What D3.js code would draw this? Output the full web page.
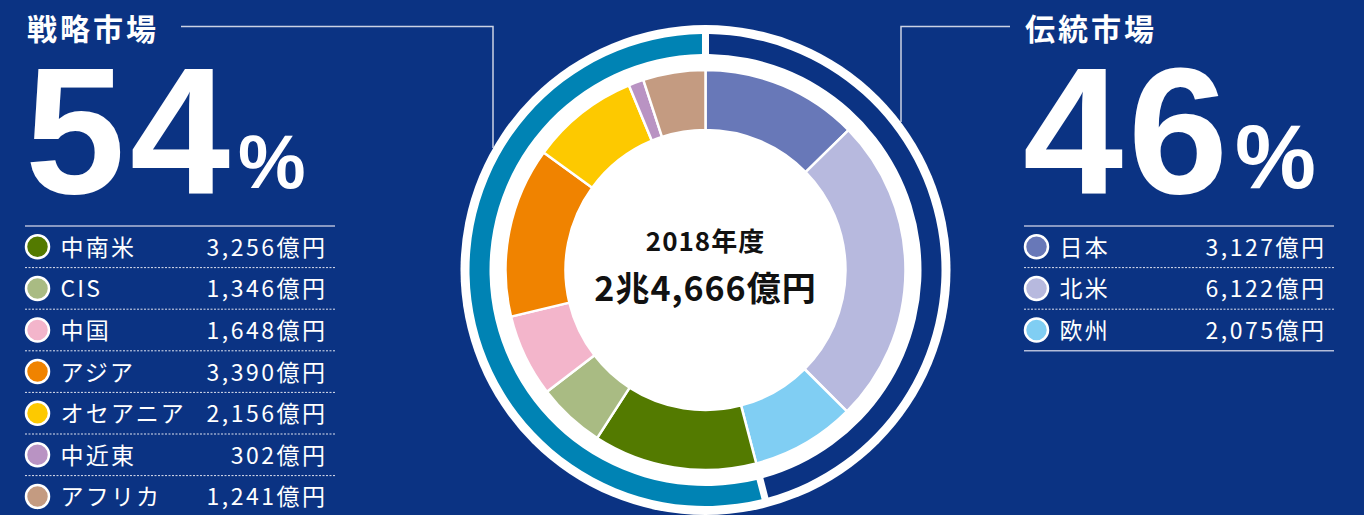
<!DOCTYPE html>
<html>
<head>
<meta charset="utf-8">
<script src="https://cdn.jsdelivr.net/npm/d3@7"></script>
<style>
  html, body { margin: 0; padding: 0; background: #0b3383; }
  svg { display: block; font-family: 'Noto Sans CJK JP', 'Noto Sans', sans-serif; }
</style>
</head>
<body>
<main></main>
<script>
// Data
const traditionalNames = ['日本', '北米', '欧州'];
const traditionalValues = [3127, 6122, 2075];
const strategicNames = ['中南米', 'CIS', '中国', 'アジア', 'オセアニア', '中近東', 'アフリカ'];
const strategicValues = [3256, 1346, 1648, 3390, 2156, 302, 1241];
const marketTitles = ['戦略市場', '伝統市場'];
const marketShares = [54, 46];
const fiscalYear = '2018年度';
const totalLabel = '2兆4,666億円';

// Colours
const traditionalColors = ['#6878b8', '#b7b9de', '#80cef3'];
const strategicColors = ['#537a00', '#a9bb83', '#f3b5cb', '#f08300', '#fdc900', '#b993c3', '#c49b81'];
const NAVY = '#0b3383';
const TEAL = '#0083b4';
const BIG_FONT = "'Liberation Sans', Arial, sans-serif";

// Layout
const WIDTH = 1364;
const HEIGHT = 515;
const CX = 705.5;
const CY = 270;

const svg = d3.select('main')
  .append('svg')
  .attr('width', WIDTH)
  .attr('height', HEIGHT);

svg.append('rect')
  .attr('width', WIDTH)
  .attr('height', HEIGHT)
  .attr('fill', NAVY);

// Connector lines from titles to the circle
const lineColor = '#ccd2e4';
svg.append('path')
  .attr('d', 'M181,26.5H493V148')
  .attr('fill', 'none')
  .attr('stroke', lineColor)
  .attr('stroke-width', 1.5);
svg.append('path')
  .attr('d', 'M1010,26.5H901V122')
  .attr('fill', 'none')
  .attr('stroke', lineColor)
  .attr('stroke-width', 1.5);

const chart = svg.append('g').attr('transform', `translate(${CX},${CY})`);

// White disk behind everything
chart.append('circle').attr('r', 245).attr('fill', '#fff');

// Outer ring: traditional vs strategic totals
const traditionalTotal = d3.sum(traditionalValues);
const strategicTotal = d3.sum(strategicValues);
const ringData = [
  { value: traditionalTotal, color: NAVY },
  { value: strategicTotal, color: TEAL },
];
const ringPie = d3.pie().sort(null).value((d) => d.value).padAngle(0.022);
const ringArc = d3.arc().innerRadius(216).outerRadius(236);
chart.append('g')
  .selectAll('path')
  .data(ringPie(ringData))
  .enter()
  .append('path')
  .attr('d', ringArc)
  .attr('fill', (d) => d.data.color);

// Inner donut: every region
const regions = traditionalNames.map((name, i) => ({
  name, value: traditionalValues[i], color: traditionalColors[i],
})).concat(strategicNames.map((name, i) => ({
  name, value: strategicValues[i], color: strategicColors[i],
})));
const pie = d3.pie().sort(null).value((d) => d.value);
const arc = d3.arc().innerRadius(140).outerRadius(200);
chart.append('g')
  .selectAll('path')
  .data(pie(regions))
  .enter()
  .append('path')
  .attr('d', arc)
  .attr('fill', (d) => d.data.color)
  .attr('stroke', '#fff')
  .attr('stroke-width', 2.5)
  .attr('stroke-linejoin', 'round');

// Centre labels
chart.append('text')
  .attr('x', 0)
  .attr('y', -19)
  .attr('text-anchor', 'middle')
  .attr('font-size', 26)
  .attr('font-weight', 700)
  .attr('letter-spacing', 1)
  .attr('fill', '#111')
  .text(fiscalYear);
chart.append('text')
  .attr('x', 0)
  .attr('y', 31)
  .attr('text-anchor', 'middle')
  .attr('font-size', 34)
  .attr('font-weight', 700)
  .attr('letter-spacing', 1)
  .attr('fill', '#111')
  .text(totalLabel);

// Market headers
function header(x, title, share, pctX, pctSize) {
  svg.append('text')
    .attr('x', x)
    .attr('y', 40)
    .attr('font-size', 30)
    .attr('font-weight', 700)
    .attr('letter-spacing', 3)
    .attr('fill', '#fff')
    .text(title);
  svg.append('text')
    .attr('x', x - 2)
    .attr('y', 193)
    .style('font-family', BIG_FONT)
    .attr('font-size', 180)
    .attr('font-weight', 700)
    .attr('letter-spacing', 5)
    .attr('fill', '#fff')
    .text(share);
  svg.append('text')
    .attr('x', pctX)
    .attr('y', 188)
    .style('font-family', BIG_FONT)
    .attr('font-size', pctSize)
    .attr('font-weight', 700)
    .attr('fill', '#fff')
    .text('%');
}
header(27, marketTitles[0], marketShares[0], 238, 76);
header(1025, marketTitles[1], marketShares[1], 1235, 91);

// Legends
const ROW = 41.6;
const yenFormat = (v) => `${d3.format(',')(v)}億円`;

function legend(x0, x1, names, values, colors) {
  const g = svg.append('g');
  const n = names.length;

  g.append('line')
    .attr('x1', x0).attr('x2', x1)
    .attr('y1', 226).attr('y2', 226)
    .attr('stroke', '#b4bdd9')
    .attr('stroke-width', 1.5);

  for (let i = 1; i < n; i++) {
    g.append('line')
      .attr('x1', x0).attr('x2', x1)
      .attr('y1', 226 + ROW * i).attr('y2', 226 + ROW * i)
      .attr('stroke', '#dfe3ef')
      .attr('stroke-width', 1)
      .attr('stroke-dasharray', '2,1.5');
  }

  if (n < 5) {
    g.append('line')
      .attr('x1', x0).attr('x2', x1)
      .attr('y1', 226 + ROW * n).attr('y2', 226 + ROW * n)
      .attr('stroke', '#b4bdd9')
      .attr('stroke-width', 1.5);
  }

  const rows = g.selectAll('g.row')
    .data(names)
    .enter()
    .append('g')
    .attr('class', 'row')
    .attr('transform', (_, i) => `translate(0, ${226 + ROW * i + ROW / 2})`);

  rows.append('circle')
    .attr('cx', x0 + 12.5)
    .attr('cy', 0)
    .attr('r', 11.5)
    .attr('fill', (_, i) => colors[i])
    .attr('stroke', '#fff')
    .attr('stroke-width', 2.5);

  rows.append('text')
    .attr('x', x0 + 35.5)
    .attr('y', 9)
    .attr('font-size', 23)
    .attr('letter-spacing', 2.2)
    .attr('fill', '#fff')
    .text((d) => d);

  rows.append('text')
    .attr('x', x1 - 10 + 2.5)
    .attr('y', 9)
    .attr('text-anchor', 'end')
    .attr('font-size', 23)
    .attr('letter-spacing', 2.5)
    .attr('fill', '#fff')
    .text((_, i) => yenFormat(values[i]));
}

legend(25, 335, strategicNames, strategicValues, strategicColors);
legend(1024, 1334, traditionalNames, traditionalValues, traditionalColors);
</script>
</body>
</html>
